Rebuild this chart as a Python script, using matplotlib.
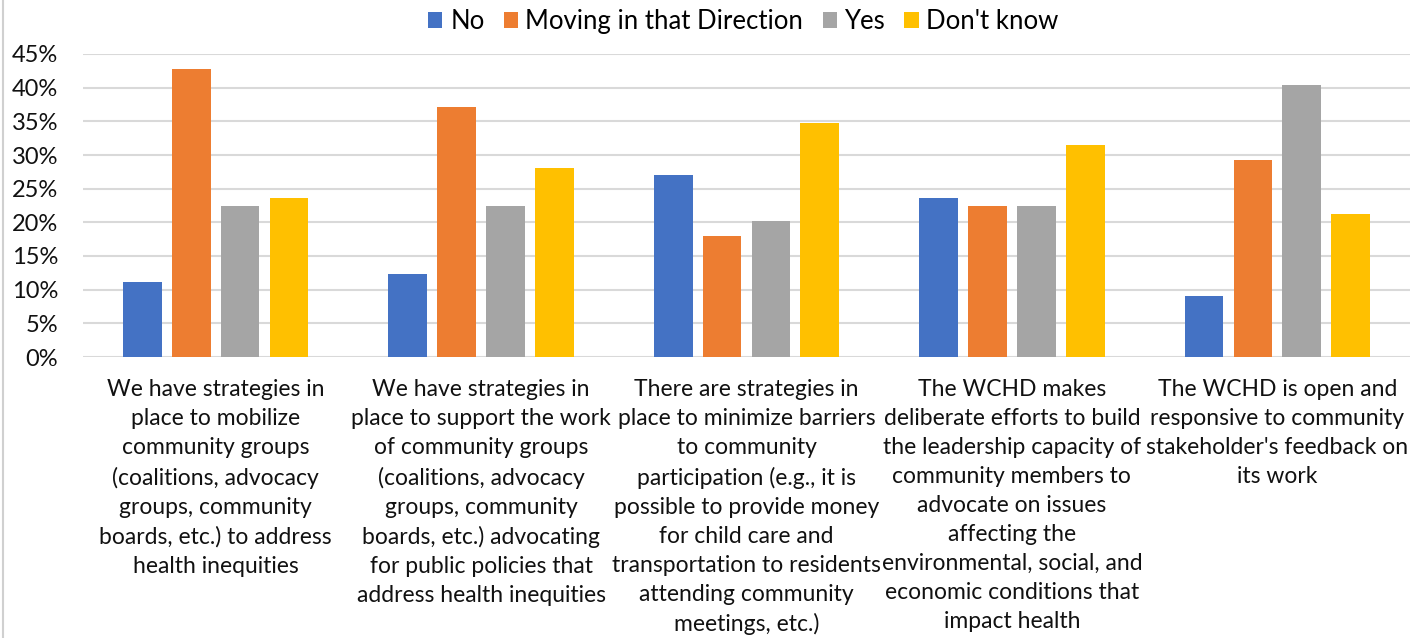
import numpy as np
import matplotlib
matplotlib.use("Agg")
import matplotlib.pyplot as plt
from matplotlib.ticker import PercentFormatter
from matplotlib.lines import Line2D

categories = [
    "We have strategies in\nplace to mobilize\ncommunity groups\n(coalitions, advocacy\ngroups, community\nboards, etc.) to address\nhealth inequities",
    "We have strategies in\nplace to support the work\nof community groups\n(coalitions, advocacy\ngroups, community\nboards, etc.) advocating\nfor public policies that\naddress health inequities",
    "There are strategies in\nplace to minimize barriers\nto community\nparticipation (e.g., it is\npossible to provide money\nfor child care and\ntransportation to residents\nattending community\nmeetings, etc.)",
    "The WCHD makes\ndeliberate efforts to build\nthe leadership capacity of\ncommunity members to\nadvocate on issues\naffecting the\nenvironmental, social, and\neconomic conditions that\nimpact health",
    "The WCHD is open and\nresponsive to community\nstakeholder's feedback on\nits work",
]
series_names = ["No", "Moving in that Direction", "Yes", "Don't know"]
no_vals = [11.2, 12.4, 27.0, 23.6, 9.0]
moving_vals = [42.7, 37.1, 18.0, 22.5, 29.2]
yes_vals = [22.5, 22.5, 20.2, 22.5, 40.4]
dontknow_vals = [23.6, 28.1, 34.8, 31.5, 21.3]
colors = ["#4472C4", "#ED7D31", "#A5A5A5", "#FFC000"]

plt.rcParams['font.family'] = ['Lato', 'DejaVu Sans']

fig = plt.figure(figsize=(14.24, 6.38), dpi=100)
ax = fig.add_axes([83 / 1424, 1 - 357 / 638, (1410 - 83) / 1424, (357 - 54) / 638])

x = np.arange(len(categories))
pitch = 0.184
width = 0.146
all_vals = [no_vals, moving_vals, yes_vals, dontknow_vals]
for i, (name, vals) in enumerate(zip(series_names, all_vals)):
    ax.bar(x + (i - 1.5) * pitch, vals, width=width, color=colors[i], label=name, zorder=3)

ax.set_xlim(-0.5, len(categories) - 0.5)
ax.set_ylim(0, 45)
ax.set_yticks(np.arange(0, 46, 5))
ax.yaxis.set_major_formatter(PercentFormatter(decimals=0))
ax.grid(axis="y", color="#D9D9D9", linewidth=1.5, zorder=0)
for s in ax.spines.values():
    s.set_visible(False)
ax.tick_params(axis="y", length=0, pad=18, labelsize=17, colors="#111111")
ax.tick_params(axis="x", length=0, pad=16)
ax.set_xticks(x)
ax.set_xticklabels(categories, fontsize=16.5, linespacing=1.47, color="#111111")

ax.legend(loc="upper center", bbox_to_anchor=(0.5 - 3 / 1327, 1 + 68 / 303), ncol=4, frameon=False,
          fontsize=18.5, handlelength=0.55, handleheight=0.6, handletextpad=0.3, columnspacing=0.75)

fig.add_artist(Line2D([3 / 1424, 3 / 1424], [0, 1], color="#D0D0D0", linewidth=1.5))

fig.savefig("out.png", dpi=100)
